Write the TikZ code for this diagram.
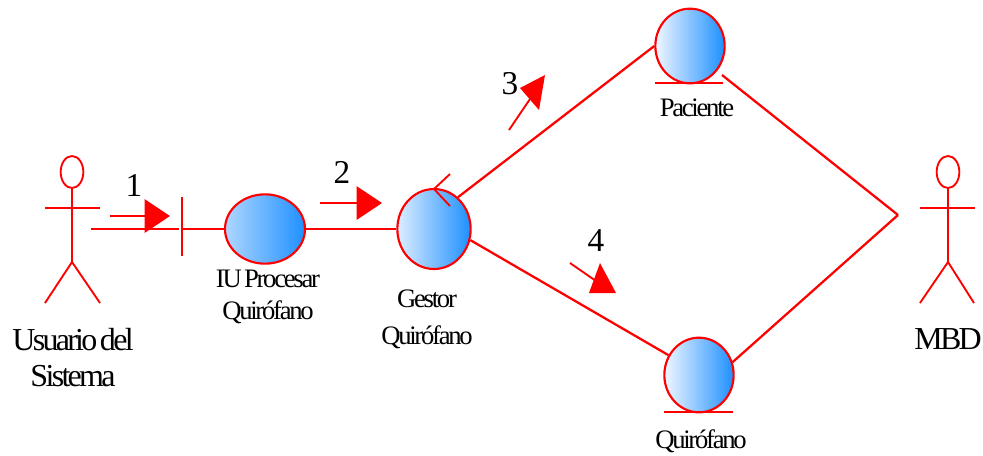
\documentclass[tikz,border=0pt]{standalone}
\usepackage{fontspec}
\setmainfont{Liberation Serif}
\newfontfamily\tightfont[LetterSpace=-8.5, WordSpace=0.5]{Liberation Serif}
\usepackage{tikz}
\usetikzlibrary{shapes.geometric, arrows.meta}
\definecolor{umlred}{RGB}{255,0,0}
\definecolor{ballblue}{RGB}{30,144,255}
\definecolor{ballpale}{RGB}{240,247,255}
\definecolor{balllight}{RGB}{175,215,255}
\tikzset{
  ball/.style={ellipse, draw=umlred, line width=1.6pt, left color=ballpale, right color=ballblue,
    inner sep=0pt, minimum width=52pt, minimum height=56pt},
  head/.style={ellipse, draw=umlred, line width=1.4pt, inner sep=0pt,
    minimum width=17pt, minimum height=24pt},
  lnk/.style={umlred, line width=1.7pt},
  limb/.style={umlred, line width=1.4pt},
  msg/.style={umlred, line width=1.4pt, -{Triangle[length=19pt, width=25pt]}},
  biglabel/.style={font=\fontsize{24}{27}\tightfont, align=center, inner sep=0pt},
  smalllabel/.style={font=\fontsize{20}{23.5}\tightfont, align=center, inner sep=0pt},
  num/.style={font=\fontsize{25}{25}\selectfont, inner sep=0pt},
}

\begin{document}
\begin{tikzpicture}[x=0.75pt, y=-0.75pt]
  \useasboundingbox (0,0) rectangle (983,455);
  % objects
  \node[ball, left color=balllight, minimum width=60pt, minimum height=52pt] (iu) at (265,229) {};
  \node[ball, left color=ballpale!70!balllight, minimum width=55pt, minimum height=60pt] (gestor) at (434,229) {};
  \node[ball] (paciente) at (690,46) {};
  \node[ball] (quirofano) at (699,375) {};
  \node[head] (userhead) at (72,172) {};
  \node[head] (mbdhead) at (948,172) {};

  \node[biglabel] (userlbl) at (73,358) {Usuario del\\Sistema};
  \node[biglabel] (mbdlbl) at (948,339) {MBD};
  \node[smalllabel] (iulbl) at (268,297) {IU Procesar\\Quir\'ofano};
  \node[smalllabel] (gestorlbl) at (427,319) {Gestor\\[4pt]Quir\'ofano};
  \node[smalllabel] (paclbl) at (697,108) {Paciente};
  \node[smalllabel] (quirlbl) at (701,441) {Quir\'ofano};
  \node[num] (one) at (134,185) {1};
  \node[num] (two) at (342,172) {2};
  \node[num] (three) at (510,84) {3};
  \node[num] (four) at (596,241) {4};

  % actors
  \coordinate (userarml) at (45,208);
  \coordinate (userarmr) at (100,208);
  \coordinate (userhip) at (72,262);
  \coordinate (userfootl) at (45,303);
  \coordinate (userfootr) at (100,303);
  \draw[limb] (userhead) -- (userhip);
  \draw[limb] (userarml) -- (userarmr);
  \draw[limb] (userfootl) -- (userhip) -- (userfootr);
  \coordinate (mbdarml) at (920,208);
  \coordinate (mbdarmr) at (975,208);
  \coordinate (mbdhip) at (948,262);
  \coordinate (mbdfootl) at (920,303);
  \coordinate (mbdfootr) at (974,303);
  \draw[limb] (mbdhead) -- (mbdhip);
  \draw[limb] (mbdarml) -- (mbdarmr);
  \draw[limb] (mbdfootl) -- (mbdhip) -- (mbdfootr);

  % boundary bar, entity bars, control mark
  \coordinate (bartop) at (182,197);
  \coordinate (barbot) at (182,256);
  \coordinate (barmid) at (182,229);
  \draw[lnk] (bartop) -- (barbot);
  \coordinate (pacl) at (655,83);
  \coordinate (pacr) at (723,83);
  \draw[lnk] (pacl) -- (pacr);
  \coordinate (quirl) at (664,412);
  \coordinate (quirr) at (733,412);
  \draw[lnk] (quirl) -- (quirr);
  \coordinate (marktop) at (450,174);
  \coordinate (marktip) at (434,189);
  \coordinate (markbot) at (450,206);
  \draw[limb] (marktop) -- (marktip) -- (markbot);

  % links
  \coordinate (userport) at (91,229);
  \coordinate (barin) at (179,229);
  \coordinate (pacout) at (722,75);
  \coordinate (mbdport) at (898,215);
  \draw[lnk] (userport) -- (barin);
  \draw[lnk] (barmid) -- (iu);
  \draw[lnk] (iu) -- (gestor);
  \draw[lnk] (gestor.53) -- (paciente.180);
  \draw[lnk] (gestor.-17) -- (quirofano.147);
  \draw[lnk] (pacout) -- (mbdport);
  \draw[lnk] (quirofano.21) -- (mbdport);

  % messages
  \coordinate (m1a) at (110,216);
  \coordinate (m1b) at (170,216);
  \coordinate (m2a) at (320,203);
  \coordinate (m2b) at (382,203);
  \coordinate (m3a) at (509,130);
  \coordinate (m3b) at (530,99);
  \coordinate (m3t) at (545,75);
  \coordinate (m3l) at (520,88);
  \coordinate (m3r) at (539,110);
  \coordinate (m4a) at (570,263);
  \coordinate (m4b) at (596,281);
  \coordinate (m4t) at (600,263);
  \coordinate (m4l) at (589,293);
  \coordinate (m4r) at (616,293);
  \draw[msg] (m1a) -- (m1b);
  \draw[msg] (m2a) -- (m2b);
  \draw[limb] (m3a) -- (m3b);
  \fill[umlred] (m3t) -- (m3l) -- (m3r) -- cycle;
  \draw[limb] (m4a) -- (m4b);
  \fill[umlred] (m4t) -- (m4l) -- (m4r) -- cycle;
\end{tikzpicture}
\end{document}
